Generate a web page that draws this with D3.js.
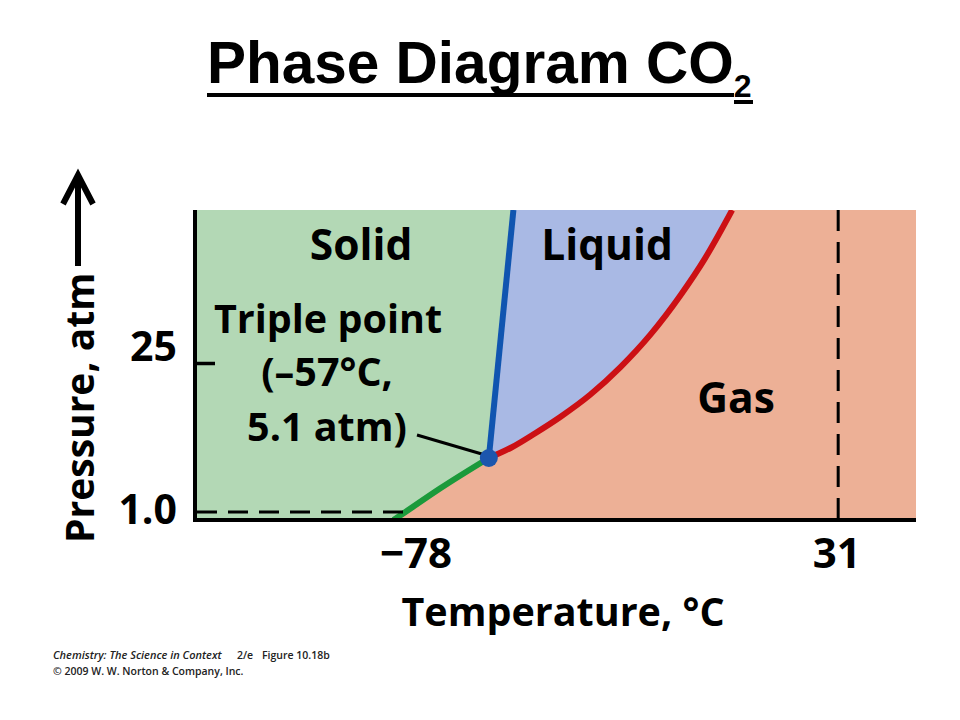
<!DOCTYPE html>
<html><head><meta charset="utf-8">
<script src="https://cdn.jsdelivr.net/npm/d3@7"></script>
<style>body{margin:0;background:#fff} svg{display:block}</style>
</head><body><svg id="c" width="960" height="720"></svg>
<script>
// ---- data ----
const tempDomain = [-131, 50.6];           // °C, left and right edge of the plot
const presDomain = [0, 1, 5.1, 25, 60];    // atm, schematic (piecewise) pressure axis
const sublimation = [[-81, 0], [-78, 1.0], [-69.2, 2.8], [-57, 5.1]];
const melting = [[-57, 5.1], [-50.8, 60]];
const vaporization = [[-57, 5.1], [-51.3, 7.3], [-45.3, 10.3], [-39.0, 13.7], [-31.4, 18.4],
                      [-23.9, 24.1], [-16.3, 31.5], [-8.8, 40.4], [-2.5, 49.0], [4.3, 60]];
const triplePoint = [-57, 5.1];
const normalSublimation = [-78, 1.0];
const criticalTemp = 31;
const xTicks = [-78, 31];
const xTickLabels = ["\u221278", "31"];
const yTicks = [1.0, 25];
const yTickLabels = ["1.0", "25"];
const phaseLabels = ["Solid", "Liquid", "Gas"];
const tripleLabel = ["Triple point", "(\u201357\u00B0C,", "5.1 atm)"];
const title = "Phase Diagram CO";
const titleSub = "2";
const xTitle = "Temperature, \u00B0C";
const yTitle = "Pressure, atm";
const creditParts = ["Chemistry: The Science in Context", "2/e", "Figure 10.18b"];
const credit2 = "\u00A9 2009 W. W. Norton & Company, Inc.";

// ---- styles ----
const FONT = "'Open Sans', Lato, sans-serif";
const C = {solid: "#b3d8b5", liquid: "#a9b9e4", gas: "#edb096",
           red: "#cc1014", blue: "#1055b0", green: "#1b9a3b", dot: "#1c56ad"};

const svg = d3.select("#c");
const x = d3.scaleLinear().domain(tempDomain).range([195, 916]);
const y = d3.scaleLinear().domain(presDomain).range([520, 512, 458, 363, 210]);
const X0 = x.range()[0], X1 = x.range()[1];
const Y0 = y(presDomain[0]), Y1 = y(presDomain[presDomain.length - 1]);

const curveLine = d3.line().x(d => x(d[0])).y(d => y(d[1])).curve(d3.curveMonotoneX);
const straight = d3.line().x(d => x(d[0])).y(d => y(d[1]));
const asCont = p => p.replace(/^M/, "L");

// clip
svg.append("clipPath").attr("id", "plot").append("rect")
  .attr("x", X0).attr("y", Y1).attr("width", X1 - X0).attr("height", Y0 - Y1);
const plot = svg.append("g").attr("clip-path", "url(#plot)");

// gas background
plot.append("rect").attr("x", X0).attr("y", Y1).attr("width", X1 - X0).attr("height", Y0 - Y1)
  .attr("fill", C.gas);

// solid region
const meltTop = melting[melting.length - 1];
const solidPath = `M${X0},${Y1}` + `L${x(meltTop[0])},${Y1}` +
  `L${x(triplePoint[0])},${y(triplePoint[1])}` +
  asCont(curveLine(sublimation.slice().reverse())) + `L${X0},${Y0}Z`;
plot.append("path").attr("d", solidPath).attr("fill", C.solid);

// liquid region
const liquidPath = straight(melting) + asCont(curveLine(vaporization.slice().reverse())) + "Z";
plot.append("path").attr("d", liquidPath).attr("fill", C.liquid);

// dashed guides
svg.append("path")
  .attr("d", `M${X0 + 2},${y(normalSublimation[1])}H${x(normalSublimation[0])}V${Y0}`)
  .attr("fill", "none").attr("stroke", "#000").attr("stroke-width", 3).attr("stroke-dasharray", "20,11");
svg.append("line").attr("x1", x(criticalTemp)).attr("x2", x(criticalTemp))
  .attr("y1", Y1).attr("y2", Y0)
  .attr("stroke", "#000").attr("stroke-width", 3).attr("stroke-dasharray", "21,11");

// phase boundaries
plot.append("path").attr("d", curveLine(sublimation)).attr("fill", "none")
  .attr("stroke", C.green).attr("stroke-width", 6);
plot.append("path").attr("d", curveLine(vaporization)).attr("fill", "none")
  .attr("stroke", C.red).attr("stroke-width", 6);
plot.append("path").attr("d", straight(melting)).attr("fill", "none")
  .attr("stroke", C.blue).attr("stroke-width", 6);

// axes
const gy = svg.append("g").attr("transform", `translate(${X0},0)`)
  .call(d3.axisLeft(y).tickValues(yTicks).tickFormat((d, i) => yTickLabels[i])
    .tickSizeInner(-20).tickSizeOuter(0).tickPadding(18));
gy.select(".domain").remove();
gy.selectAll(".tick line").attr("stroke", "#000").attr("stroke-width", 3.5)
  .attr("display", d => d === normalSublimation[1] ? "none" : null);
gy.selectAll(".tick text").attr("font-family", FONT).attr("font-weight", 700)
  .attr("font-size", 41).attr("fill", "#000").attr("dy", null)
  .attr("y", d => d === normalSublimation[1] ? 11 : -3);

const gx = svg.append("g").attr("transform", `translate(0,${Y0})`)
  .call(d3.axisBottom(x).tickValues(xTicks).tickFormat((d, i) => xTickLabels[i])
    .tickSize(0).tickPadding(0));
gx.select(".domain").remove();
gx.selectAll(".tick text").attr("font-family", FONT).attr("font-weight", 700)
  .attr("font-size", 42).attr("fill", "#000").attr("dy", null).attr("y", 48)
  .attr("text-anchor", d => d < 0 ? "start" : "middle")
  .attr("x", d => d < 0 ? -26 : -2);

svg.append("line").attr("x1", X0).attr("x2", X0).attr("y1", Y1).attr("y2", Y0 + 2)
  .attr("stroke", "#000").attr("stroke-width", 4);
svg.append("line").attr("x1", X0 - 2).attr("x2", X1).attr("y1", Y0).attr("y2", Y0)
  .attr("stroke", "#000").attr("stroke-width", 4);

// triple point
svg.append("line")
  .attr("x1", 417).attr("y1", 435)
  .attr("x2", x(triplePoint[0]) - 7).attr("y2", y(triplePoint[1]) - 4)
  .attr("stroke", "#000").attr("stroke-width", 3);
svg.append("circle").attr("cx", x(triplePoint[0])).attr("cy", y(triplePoint[1])).attr("r", 9)
  .attr("fill", C.dot);

// labels
const lab = (t, cx, by, size) => svg.append("text").text(t).attr("x", cx).attr("y", by)
  .attr("text-anchor", "middle").attr("font-family", FONT).attr("font-weight", 700)
  .attr("font-size", size).attr("fill", "#000");
lab(phaseLabels[0], 361, 260, 42.5);
lab(phaseLabels[1], 607, 260, 42.5);
lab(phaseLabels[2], 736, 413, 42.5);
lab(tripleLabel[0], 328, 333, 39.5);
lab(tripleLabel[1], 327, 386, 39.5);
lab(tripleLabel[2], 327, 441, 39.5);
lab(xTitle, 563, 626, 39.5);

// y title + arrow
svg.append("text").text(yTitle)
  .attr("transform", "translate(94,543) rotate(-90)")
  .attr("font-family", FONT).attr("font-weight", 700).attr("font-size", 39).attr("fill", "#000");
svg.append("line").attr("x1", 78).attr("x2", 78).attr("y1", 266).attr("y2", 176)
  .attr("stroke", "#000").attr("stroke-width", 6);
svg.append("polyline").attr("points", "63,204 78,175 93,204")
  .attr("fill", "none").attr("stroke", "#000").attr("stroke-width", 6)
  .attr("stroke-linejoin", "miter");

// title
const tt = svg.append("text").attr("x", 207).attr("y", 83)
  .attr("font-family", "'Liberation Sans', Arial, sans-serif").attr("font-weight", 700)
  .attr("font-size", 58.5).attr("fill", "#000");
tt.append("tspan").text(title);
tt.append("tspan").text(titleSub).attr("font-size", 32).attr("dy", 14);
svg.append("line").attr("x1", 207).attr("x2", 734).attr("y1", 95).attr("y2", 95)
  .attr("stroke", "#000").attr("stroke-width", 4);
svg.append("line").attr("x1", 734).attr("x2", 753).attr("y1", 102).attr("y2", 102)
  .attr("stroke", "#000").attr("stroke-width", 4);

// credit
const cr = svg.append("text").attr("y", 659)
  .attr("font-family", FONT).attr("font-weight", 600).attr("font-size", 10.5).attr("fill", "#222");
cr.append("tspan").attr("x", 53).text(creditParts[0]).attr("font-style", "italic").attr("font-size", 11);
cr.append("tspan").attr("x", 237).text(creditParts[1]);
cr.append("tspan").attr("x", 262).text(creditParts[2]);
svg.append("text").attr("x", 53).attr("y", 675).text(credit2)
  .attr("font-family", FONT).attr("font-weight", 600).attr("font-size", 10.5).attr("fill", "#222");
</script></body></html>
